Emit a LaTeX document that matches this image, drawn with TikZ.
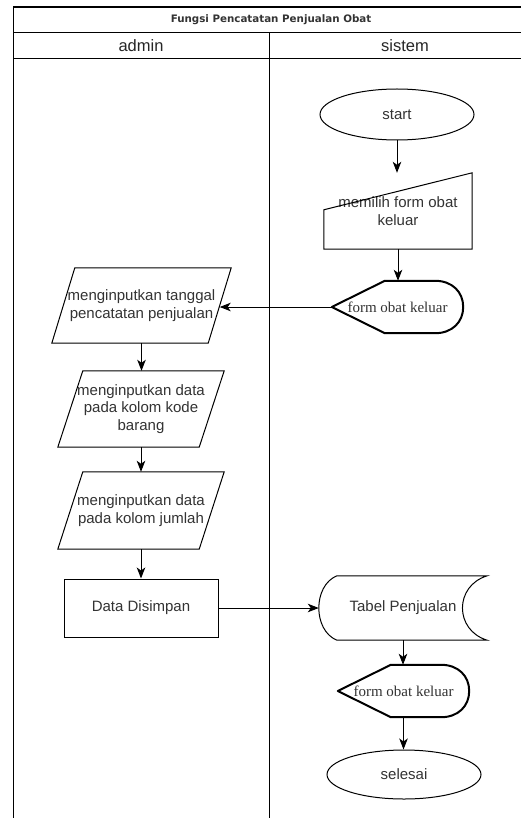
\documentclass[tikz,border=0pt]{standalone}
\usepackage{fontspec}
\setmainfont{Liberation Sans}
\newfontfamily\dispfont{Liberation Serif}
\newfontfamily\titlefont{DejaVu Sans}
\usetikzlibrary{arrows.meta,calc,shapes.geometric}

\definecolor{txtgray}{HTML}{333333}

\tikzset{
  lane/.style={line width=1.2pt, draw=black},
  shapeline/.style={line width=1pt, draw=black},
  displine/.style={line width=2pt, draw=black, line join=round},
  flow/.style={line width=1pt, -{Stealth[length=11pt,width=8.5pt,inset=3pt]}},
  txt/.style={text=txtgray, font=\fontsize{15}{17.5}\selectfont, align=center, inner sep=0pt},
  disptxt/.style={text=txtgray, font=\dispfont\fontsize{15}{17.5}\selectfont, align=center, inner sep=0pt},
  boxsize/.style 2 args={minimum width=#1, minimum height=#2},
}

% display symbol drawn round a node box
\newcommand\dispshape[1]{%
  \draw[displine] (#1.west) -- ($(#1.north west)+(53,0)$) -- ($(#1.north east)+(-28,0)$)
    .. controls ($(#1.north east)+(-11,0)$) and ($(#1.east)+(0,-15)$) .. (#1.east)
    .. controls ($(#1.east)+(0,15)$) and ($(#1.south east)+(-11,0)$) .. ($(#1.south east)+(-28,0)$)
    -- ($(#1.south west)+(53,0)$) -- cycle;}

% data input parallelogram, #2 = half of the horizontal slant
\newcommand\inshape[2]{%
  \draw[shapeline] ($(#1.north west)+(#2,0)$) -- ($(#1.north east)+(#2,0)$)
    -- ($(#1.south east)+(-#2,0)$) -- ($(#1.south west)+(-#2,0)$) -- cycle;}

\begin{document}
\begin{tikzpicture}[x=1pt,y=-1pt]
\useasboundingbox (0,0) rectangle (521,818);
\fill[white] (0,0) rectangle (521,818);

\begin{scope}
\clip (0,0) rectangle (521,818);
% swimlane frame
\draw[lane] (13.5,7) rectangle (545,840);
\draw[lane] (13.5,32.5) -- (545,32.5);
\draw[lane] (13.5,58.5) -- (545,58.5);
\draw[lane] (269.5,32.5) -- (269.5,840);
\end{scope}

\node[font=\titlefont\bfseries\fontsize{10.3}{12}\selectfont, text=txtgray, inner sep=0pt] (title) at (271,19.5) {Fungsi Pencatatan Penjualan Obat};
\node[font=\fontsize{16.5}{19}\selectfont, text=black!85, inner sep=0pt] (hadmin) at (141,45.5) {admin};
\node[font=\fontsize{16.5}{19}\selectfont, text=black!85, inner sep=0pt] (hsistem) at (405,45.5) {sistem};

% sistem lane
\node[txt, shapeline, ellipse, boxsize={154pt}{51pt}] (start) at (397,114.5) {start};

\node[txt, boxsize={148pt}{76pt}] (pilih) at (398,211) {memilih form obat\\keluar};
\draw[shapeline] (pilih.south west) -- ($(pilih.north west)+(0,37)$) -- (pilih.north east) -- (pilih.south east) -- cycle;

\node[disptxt, boxsize={131pt}{52pt}] (form1) at (397.5,307) {form obat keluar};
\dispshape{form1}

% admin lane
\node[txt, boxsize={156pt}{75pt}] (tgl) at (141.5,305.5) {menginputkan tanggal\\pencatatan penjualan};
\inshape{tgl}{11.5}

\node[txt, boxsize={141pt}{76pt}] (kode) at (141,409) {menginputkan data\\pada kolom kode\\barang};
\inshape{kode}{12.5}

\node[txt, boxsize={141pt}{77pt}] (jml) at (141,510.5) {menginputkan data\\pada kolom jumlah};
\inshape{jml}{12.5}

\node[txt, shapeline, rectangle, boxsize={154pt}{58pt}] (simpan) at (141,608) {Data Disimpan};

% sistem lane, lower part
\node[txt, boxsize={168pt}{64pt}] (tabel) at (403,608) {Tabel Penjualan};
\draw[shapeline] ($(tabel.north west)+(18,0)$) -- (tabel.north east)
  .. controls ($(tabel.north east)+(-33,10)$) and ($(tabel.south east)+(-33,-10)$) .. (tabel.south east)
  -- ($(tabel.south west)+(18,0)$)
  .. controls ($(tabel.south west)+(-6,-10)$) and ($(tabel.north west)+(-6,10)$) .. cycle;

\node[disptxt, boxsize={131pt}{52pt}] (form2) at (403.5,691) {form obat keluar};
\dispshape{form2}

\node[txt, shapeline, ellipse, boxsize={154pt}{49pt}] (selesai) at (404,774.5) {selesai};

% connectors
\draw[flow] (start.south) -- (start.south |- pilih.north);
\draw[flow] (pilih.south) -- (pilih.south |- form1.north);
\draw[flow] (form1.west) -- (form1.west -| tgl.east);
\draw[flow] (tgl.south) -- (tgl.south |- kode.north);
\draw[flow] (kode.south) -- (kode.south |- jml.north);
\draw[flow] (jml.south) -- (jml.south |- simpan.north);
\draw[flow] (simpan.east) -- (simpan.east -| tabel.west);
\draw[flow] (tabel.south) -- (tabel.south |- form2.north);
\draw[flow] (form2.south) -- (form2.south |- selesai.north);
\end{tikzpicture}
\end{document}
